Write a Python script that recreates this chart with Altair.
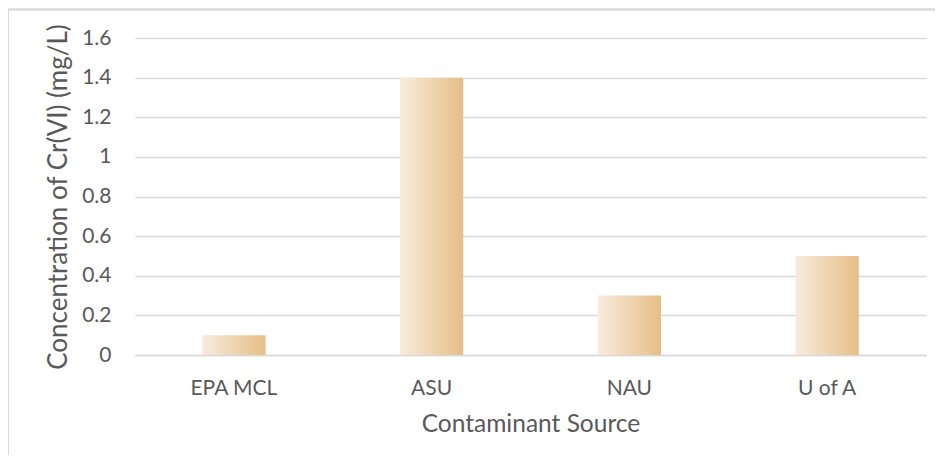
import altair as alt
import pandas as pd

sources = ["EPA MCL", "ASU", "NAU", "U of A"]
concentrations = [0.1, 1.4, 0.3, 0.5]
y_ticks = [0, 0.2, 0.4, 0.6, 0.8, 1.0, 1.2, 1.4, 1.6]

df = pd.DataFrame({"source": sources, "conc": concentrations})

FONT = "Lato"
TXT = "#595959"
GRID = "#D9D9D9"

grad = alt.LinearGradient(
    gradient="linear",
    stops=[alt.GradientStop(color="#F8ECDE", offset=0),
           alt.GradientStop(color="#E6BE86", offset=1)],
    x1=0, x2=1, y1=0, y2=0,
)

bars = alt.Chart(df).mark_bar(color=grad).encode(
    x=alt.X("source:N", sort=sources,
            scale=alt.Scale(paddingInner=0.68, paddingOuter=0.34),
            axis=alt.Axis(title="Contaminant Source", labelAngle=0, ticks=False,
                          domainColor=GRID, domainWidth=1.3, labelPadding=22,
                          labelFontSize=21, titleFontSize=24.5, titlePadding=14,
                          labelColor=TXT, titleColor=TXT, labelFont=FONT, titleFont=FONT,
                          titleFontWeight="normal", grid=False)),
    y=alt.Y("conc:Q", scale=alt.Scale(domain=[0, 1.6], nice=False),
            axis=alt.Axis(title="Concentration of Cr(VI) (mg/L)", values=y_ticks,
                          ticks=False, domain=False, gridColor=GRID, gridWidth=1.3,
                          labelPadding=24, labelFontSize=21, titleFontSize=26,
                          titlePadding=10, labelColor=TXT, titleColor=TXT,
                          labelFont=FONT, titleFont=FONT, titleFontWeight="normal",
                          labelExpr="datum.value == 0 ? '0' : (datum.value == 1 ? '1' : format(datum.value, '.1f'))")),
)

border_left = alt.Chart(df).mark_rule(color=GRID, strokeWidth=1.5).encode(
    x=alt.value(-127), y=alt.value(-29), y2=alt.value(440))
border_top = alt.Chart(df).mark_rule(color=GRID, strokeWidth=1.5).encode(
    x=alt.value(-127), x2=alt.value(805), y=alt.value(-28.5))

chart = alt.layer(bars, border_left, border_top).properties(
    width=791, height=317,
    padding={"left": 127, "top": 30, "right": 9, "bottom": 100},
    autosize=alt.AutoSizeParams(type="none"),
).configure(background="white").configure_view(stroke=None)

chart.save("out.html", embed_options={"renderer": "svg", "actions": False})
